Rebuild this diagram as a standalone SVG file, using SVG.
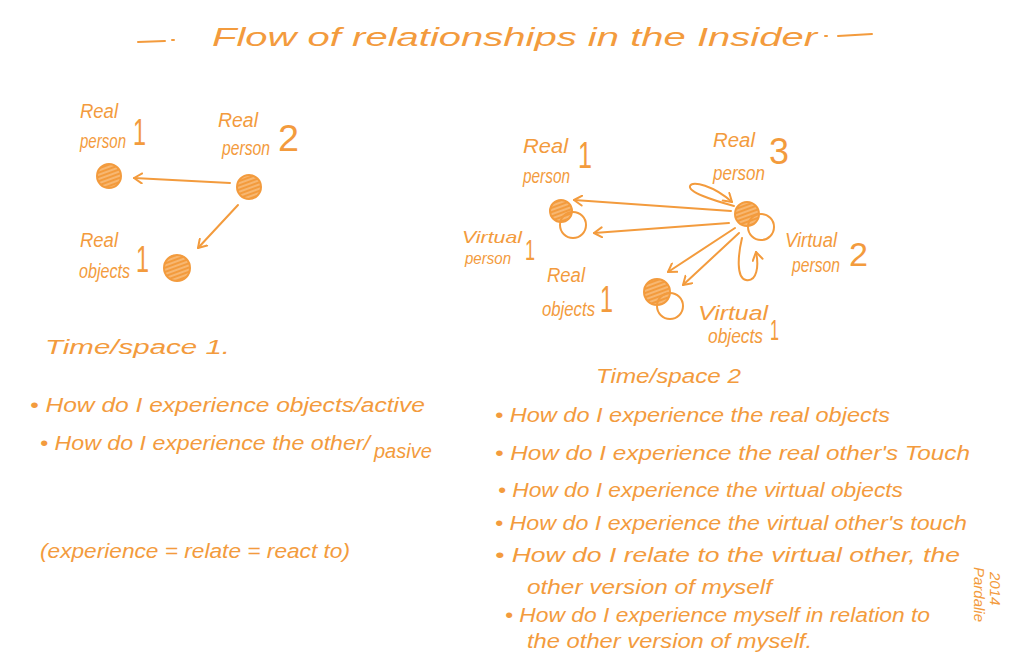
<svg xmlns="http://www.w3.org/2000/svg" width="1012" height="668" viewBox="0 0 1012 668">
<style>
text{font-family:"Liberation Sans",Arial,sans-serif;fill:#F39B3D;font-style:italic}
.t{font-size:26px}
.l{font-size:20px}
.s{font-size:17px}
.n{font-size:36px;font-style:normal}
.b{font-size:20px}
.ln{stroke:#F39B3D;stroke-width:2;fill:none;stroke-linecap:round;stroke-linejoin:round}
.node{fill:url(#hatch);stroke:#F39B3D;stroke-width:2}
.ghost{fill:none;stroke:#F39B3D;stroke-width:2}
</style>
<defs>
<pattern id="hatch" width="4" height="4" patternUnits="userSpaceOnUse" patternTransform="rotate(-20)">
<rect width="4" height="4" fill="#F39B3D"/>
<line x1="0" y1="2" x2="4" y2="2" stroke="#FBD3A6" stroke-width="1"/>
</pattern>
<marker id="ah" markerWidth="12" markerHeight="12" refX="9" refY="6" orient="auto" markerUnits="userSpaceOnUse">
<path d="M1,1 L9,6 L1,11" fill="none" stroke="#F39B3D" stroke-width="2" stroke-linecap="round" stroke-linejoin="round"/>
</marker>
</defs>
<rect width="1012" height="668" fill="#fff"/>

<g id="title">
<path class="ln" d="M138,42 L165,41 M172,40 L174,40 M825,36 L827,36 M838,36 L872,34"/>
<text class="t" x="212" y="46" textLength="605" lengthAdjust="spacingAndGlyphs">Flow  of relationships in the Insider</text>
</g>

<g id="connectors">
<path class="ln" d="M230,183 L134,178" marker-end="url(#ah)"/>
<path class="ln" d="M238,205 L198,248" marker-end="url(#ah)"/>
<path class="ln" d="M731,211 L574,200" marker-end="url(#ah)"/>
<path class="ln" d="M729,223 L594,233" marker-end="url(#ah)"/>
<path class="ln" d="M735,228 L668,272" marker-end="url(#ah)"/>
<path class="ln" d="M739,233 L683,285" marker-end="url(#ah)"/>
<path class="ln" d="M734,206 C712,200 688,192 690,186 C692,180 714,186 732,202" marker-end="url(#ah)"/>
<path class="ln" d="M742,238 C738,255 736,278 746,280 C757,282 759,266 756,252" marker-end="url(#ah)"/>
</g>

<g id="real-person-1-left">
<circle class="node" cx="109" cy="176" r="12"/>
<text class="l" x="80" y="118" textLength="38" lengthAdjust="spacingAndGlyphs">Real</text>
<text class="l" x="80" y="148" textLength="46" lengthAdjust="spacingAndGlyphs">person</text>
<text class="n" x="133" y="145" textLength="13" lengthAdjust="spacingAndGlyphs">1</text>
</g>
<g id="real-person-2-left">
<circle class="node" cx="249" cy="187" r="12"/>
<text class="l" x="218" y="127" textLength="40" lengthAdjust="spacingAndGlyphs">Real</text>
<text class="l" x="222" y="155" textLength="48" lengthAdjust="spacingAndGlyphs">person</text>
<text class="n" x="278" y="151" textLength="21" lengthAdjust="spacingAndGlyphs">2</text>
</g>
<g id="real-objects-left">
<circle class="node" cx="177" cy="268" r="13"/>
<text class="l" x="80" y="247" textLength="38" lengthAdjust="spacingAndGlyphs">Real</text>
<text class="l" x="79" y="278" textLength="51" lengthAdjust="spacingAndGlyphs">objects</text>
<text class="n" x="136" y="272" textLength="13" lengthAdjust="spacingAndGlyphs">1</text>
</g>

<g id="real-person-1-right">
<circle class="node" cx="561" cy="211" r="11"/>
<circle class="ghost" cx="573" cy="225" r="13"/>
<text class="l" x="523" y="153" textLength="45" lengthAdjust="spacingAndGlyphs">Real</text>
<text class="l" x="523" y="183" textLength="47" lengthAdjust="spacingAndGlyphs">person</text>
<text class="n" x="578" y="168" textLength="14" lengthAdjust="spacingAndGlyphs">1</text>
</g>
<g id="virtual-person-1">
<text class="s" x="462" y="243" textLength="60" lengthAdjust="spacingAndGlyphs">Virtual</text>
<text class="s" x="465" y="264" textLength="46" lengthAdjust="spacingAndGlyphs">person</text>
<text class="n" x="525" y="260" style="font-size:30px" textLength="10" lengthAdjust="spacingAndGlyphs">1</text>
</g>
<g id="real-person-3">
<circle class="node" cx="747" cy="214" r="12"/>
<circle class="ghost" cx="761" cy="227" r="13"/>
<text class="l" x="713" y="147" textLength="42" lengthAdjust="spacingAndGlyphs">Real</text>
<text class="l" x="713" y="180" textLength="52" lengthAdjust="spacingAndGlyphs">person</text>
<text class="n" x="769" y="164" textLength="20" lengthAdjust="spacingAndGlyphs">3</text>
</g>
<g id="virtual-person-2">
<text class="l" x="785" y="247" textLength="52" lengthAdjust="spacingAndGlyphs">Virtual</text>
<text class="l" x="792" y="272" textLength="48" lengthAdjust="spacingAndGlyphs">person</text>
<text class="n" x="849" y="266" style="font-size:34px" textLength="19" lengthAdjust="spacingAndGlyphs">2</text>
</g>
<g id="real-objects-right">
<circle class="node" cx="657" cy="292" r="13"/>
<circle class="ghost" cx="670" cy="306" r="13"/>
<text class="l" x="547" y="282" textLength="38" lengthAdjust="spacingAndGlyphs">Real</text>
<text class="l" x="542" y="316" textLength="53" lengthAdjust="spacingAndGlyphs">objects</text>
<text class="n" x="600" y="312" textLength="13" lengthAdjust="spacingAndGlyphs">1</text>
</g>
<g id="virtual-objects-1">
<text class="l" x="698" y="320" textLength="70" lengthAdjust="spacingAndGlyphs">Virtual</text>
<text class="l" x="708" y="343" textLength="55" lengthAdjust="spacingAndGlyphs">objects</text>
<text class="n" x="770" y="340" style="font-size:30px" textLength="9" lengthAdjust="spacingAndGlyphs">1</text>
</g>

<g id="time-space-1">
<text class="l" x="45" y="354" textLength="185" lengthAdjust="spacingAndGlyphs">Time/space  1.</text>
<text class="b" x="30" y="412" textLength="395" lengthAdjust="spacingAndGlyphs">• How do I experience objects/active</text>
<text class="b" x="40" y="450" textLength="330" lengthAdjust="spacingAndGlyphs">• How do I experience the other/</text>
<text class="b" x="374" y="458">pasive</text>
<text class="b" x="40" y="558" textLength="310" lengthAdjust="spacingAndGlyphs">(experience = relate = react to)</text>
</g>

<g id="time-space-2">
<text class="l" x="596" y="383" textLength="145" lengthAdjust="spacingAndGlyphs">Time/space 2</text>
<text class="b" x="495" y="422" textLength="395" lengthAdjust="spacingAndGlyphs">• How do I experience the real objects</text>
<text class="b" x="495" y="460" textLength="475" lengthAdjust="spacingAndGlyphs">• How do I experience the real other's Touch</text>
<text class="b" x="498" y="497" textLength="405" lengthAdjust="spacingAndGlyphs">• How do I experience the virtual objects</text>
<text class="b" x="495" y="530" textLength="472" lengthAdjust="spacingAndGlyphs">• How do I experience the virtual other's touch</text>
<text class="b" x="495" y="562" textLength="465" lengthAdjust="spacingAndGlyphs">• How do I relate to the virtual other, the</text>
<text class="b" x="527" y="594" textLength="245" lengthAdjust="spacingAndGlyphs">other version of myself</text>
<text class="b" x="505" y="622" textLength="425" lengthAdjust="spacingAndGlyphs">• How do I experience myself in relation to</text>
<text class="b" x="527" y="648" textLength="285" lengthAdjust="spacingAndGlyphs">the other version of myself.</text>
</g>

<g id="signature">
<text style="font-size:15px" transform="translate(990,572) rotate(90)">2014</text>
<text style="font-size:15px" transform="translate(974,567) rotate(90)">Pardalie</text>
</g>
</svg>
